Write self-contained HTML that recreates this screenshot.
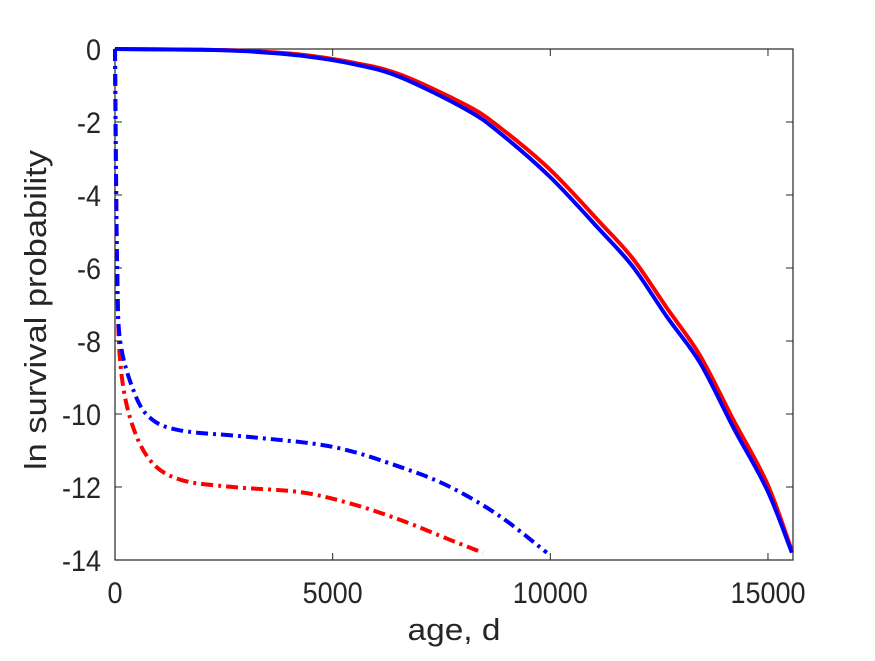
<!DOCTYPE html>
<html><head><meta charset="utf-8"><style>
body{margin:0;background:#fff;}
svg text{font-family:"Liberation Sans",Arial,sans-serif;fill:#262626;}
</style></head><body>
<svg width="875" height="656" xmlns="http://www.w3.org/2000/svg">
<rect width="875" height="656" fill="#fff"/>
<g id="plot"></g>
</svg>
<script>
const xTicks=[0,5000,10000,15000];
const yTicks=[0,-2,-4,-6,-8,-10,-12,-14];
const redSolidX=[0,1000,2000,3000,4250,5500,6550,8085,8840,9990,11140,11900,12680,13440,14200,14980,15550];
const redSolidY=[0,-0.01,-0.02,-0.05,-0.15,-0.38,-0.7,-1.55,-2.15,-3.3,-4.75,-5.75,-7.1,-8.4,-10.15,-11.9,-13.75];
const blueSolidX=[0,1000,2000,3000,4250,5500,6550,8085,8840,9990,11140,11900,12680,13440,14200,14980,15550];
const blueSolidY=[0,-0.01,-0.02,-0.06,-0.18,-0.42,-0.77,-1.67,-2.3,-3.5,-4.96,-5.97,-7.34,-8.6,-10.36,-12.08,-13.8];
const redDashX=[0,20,50,115,345,800,1500,2710,4250,5400,6550,7700,8450];
const redDashY=[0,-3,-6,-8.5,-10.1,-11.26,-11.8,-12.0,-12.14,-12.45,-12.9,-13.45,-13.8];
const blueDashX=[0,20,50,115,420,800,1500,3100,5000,6550,7700,8840,9920];
const blueDashY=[0,-3,-6,-7.97,-9.34,-10.1,-10.45,-10.63,-10.9,-11.45,-12.0,-12.8,-13.8];

const L=115,R=793,T=49,B=560,xmin=0,xmax=15575,ymin=-14,ymax=0;
const sx=v=>L+(v-xmin)/(xmax-xmin)*(R-L);
const sy=v=>T+(ymax-v)/(ymax-ymin)*(B-T);
const NS="http://www.w3.org/2000/svg";
const g=document.getElementById('plot');
function mk(t,a){const e=document.createElementNS(NS,t);for(const k in a)e.setAttribute(k,a[k]);g.appendChild(e);return e;}
function smooth(xs,ys){
 const p=xs.map((x,i)=>[sx(x),sy(ys[i])]);
 let d='M'+p[0][0]+','+p[0][1];
 for(let i=0;i<p.length-1;i++){
  const p0=p[Math.max(i-1,0)],p1=p[i],p2=p[i+1],p3=p[Math.min(i+2,p.length-1)];
  const c1=[p1[0]+(p2[0]-p0[0])/6,p1[1]+(p2[1]-p0[1])/6];
  const c2=[p2[0]-(p3[0]-p1[0])/6,p2[1]-(p3[1]-p1[1])/6];
  d+=' C'+c1+' '+c2+' '+p2;
 }
 return d;
}
let e=mk('rect',{x:L,y:T,width:R-L,height:B-T,fill:'none',stroke:'#262626','stroke-width':1.2});


xTicks.forEach(v=>{
 let t=mk('line',{x1:sx(v),x2:sx(v),y1:B,y2:B-7,stroke:'#262626','stroke-width':1});
 
 
 let t2=mk('line',{x1:sx(v),x2:sx(v),y1:T,y2:T+7,stroke:'#262626','stroke-width':1});
 
 
 let l=mk('text',{x:sx(v),y:B+43,'font-size':30,'text-anchor':'middle',transform:'translate('+(sx(v)*0.1)+',0) scale(0.9,1)'});l.textContent=v;
 
 
});
yTicks.forEach(v=>{
 let t=mk('line',{x1:L,x2:L+7,y1:sy(v),y2:sy(v),stroke:'#262626','stroke-width':1});
 
 
 let t2=mk('line',{x1:R,x2:R-7,y1:sy(v),y2:sy(v),stroke:'#262626','stroke-width':1});
 
 
 let l=mk('text',{x:(L-14)/0.9,y:sy(v)+11,'font-size':30,'text-anchor':'end',transform:'scale(0.9,1)'});l.textContent=v;
 
 
});
const series=[[redSolidX,redSolidY,'#ff0000',null,'red-solid-line'],[blueSolidX,blueSolidY,'#0000ff',null,'blue-solid-line'],
 [redDashX,redDashY,'#ff0000','12 5 3 5','red-dashdot-line'],[blueDashX,blueDashY,'#0000ff','12 5 3 5','blue-dashdot-line']];
series.forEach(s=>{
 const a={d:smooth(s[0],s[1]),fill:'none',stroke:s[2],'stroke-width':4};
 if(s[3])a['stroke-dasharray']=s[3];
 let p=mk('path',a);
 
 
});
let xl=mk('text',{x:454,y:640,'font-size':31,'text-anchor':'middle',textLength:93,lengthAdjust:'spacingAndGlyphs'});xl.textContent='age, d';


let yl=mk('text',{x:0,y:0,'font-size':31,'text-anchor':'middle',textLength:320,lengthAdjust:'spacingAndGlyphs',transform:'translate(46,310) rotate(-90)'});yl.textContent='ln survival probability';


</script>
</body></html>
